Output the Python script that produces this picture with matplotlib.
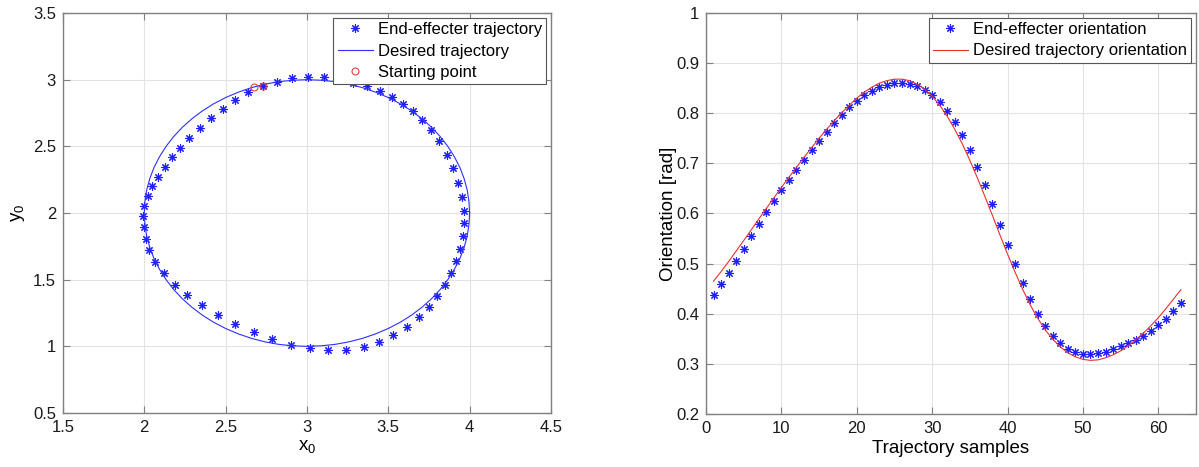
import matplotlib
matplotlib.use('Agg')
import matplotlib.pyplot as plt
from matplotlib.ticker import FormatStrFormatter

plt.rcParams['font.family'] = ['Liberation Sans', 'DejaVu Sans']
plt.rcParams['mathtext.default'] = 'regular'

# End-effector trajectory samples (left plot)
traj_x = [2.728, 2.818, 2.911, 3.005, 3.102, 3.198, 3.286, 3.368, 3.450, 3.522,
          3.588, 3.649, 3.709, 3.760, 3.813, 3.861, 3.897, 3.930, 3.953, 3.967,
          3.967, 3.959, 3.943, 3.918, 3.885, 3.846, 3.799, 3.748, 3.686, 3.614,
          3.532, 3.444, 3.348, 3.241, 3.132, 3.019, 2.905, 2.788, 2.673, 2.560,
          2.453, 2.355, 2.265, 2.187, 2.121, 2.068, 2.031, 2.008, 1.996, 1.994,
          2.000, 2.023, 2.049, 2.086, 2.127, 2.170, 2.222, 2.277, 2.341, 2.408,
          2.482, 2.558, 2.636]
traj_y = [2.955, 2.985, 3.013, 3.020, 3.020, 3.005, 2.975, 2.950, 2.915, 2.870,
          2.820, 2.763, 2.698, 2.623, 2.538, 2.438, 2.335, 2.225, 2.123, 2.013,
          1.925, 1.825, 1.730, 1.638, 1.548, 1.460, 1.375, 1.293, 1.218, 1.145,
          1.083, 1.030, 0.995, 0.975, 0.973, 0.985, 1.010, 1.055, 1.105, 1.168,
          1.235, 1.308, 1.385, 1.463, 1.548, 1.633, 1.723, 1.808, 1.893, 1.975,
          2.055, 2.128, 2.200, 2.273, 2.345, 2.418, 2.490, 2.565, 2.640, 2.713,
          2.783, 2.848, 2.908]

# Desired trajectory (left plot)
des_x = [4.000, 3.996, 3.985, 3.966, 3.940, 3.906, 3.866, 3.819, 3.766, 3.707,
         3.643, 3.574, 3.500, 3.423, 3.342, 3.259, 3.174, 3.087, 3.000,
         2.913, 2.826, 2.741, 2.658, 2.577, 2.500, 2.426, 2.357, 2.293, 2.234,
         2.181, 2.134, 2.094, 2.060, 2.034, 2.015, 2.004, 2.000,
         2.004, 2.015, 2.034, 2.060, 2.094, 2.134, 2.181, 2.234, 2.293, 2.357,
         2.426, 2.500, 2.577, 2.658, 2.741, 2.826, 2.913, 3.000,
         3.087, 3.174, 3.259, 3.342, 3.423, 3.500, 3.574, 3.643, 3.707, 3.766,
         3.819, 3.866, 3.906, 3.940, 3.966, 3.985, 3.996, 4.000]
des_y = [2.000, 2.087, 2.174, 2.259, 2.342, 2.423, 2.500, 2.574, 2.643, 2.707,
         2.766, 2.819, 2.866, 2.906, 2.940, 2.966, 2.985, 2.996, 3.000,
         2.996, 2.985, 2.966, 2.940, 2.906, 2.866, 2.819, 2.766, 2.707, 2.643,
         2.574, 2.500, 2.423, 2.342, 2.259, 2.174, 2.087, 2.000,
         1.913, 1.826, 1.741, 1.658, 1.577, 1.500, 1.426, 1.357, 1.293, 1.234,
         1.181, 1.134, 1.094, 1.060, 1.034, 1.015, 1.004, 1.000,
         1.004, 1.015, 1.034, 1.060, 1.094, 1.134, 1.181, 1.234, 1.293, 1.357,
         1.426, 1.500, 1.577, 1.658, 1.741, 1.826, 1.913, 2.000]

# Starting points
start_x = [2.675, 2.728]
start_y = [2.946, 2.955]

# Orientation (right plot)
samples = list(range(1, 64))
orient_ee = [0.438, 0.459, 0.481, 0.505, 0.530, 0.555, 0.579, 0.603, 0.625, 0.646,
             0.667, 0.687, 0.707, 0.726, 0.745, 0.763, 0.781, 0.797, 0.812, 0.825,
             0.836, 0.845, 0.852, 0.857, 0.860, 0.860, 0.859, 0.854, 0.847, 0.837,
             0.823, 0.805, 0.783, 0.757, 0.727, 0.692, 0.656, 0.618, 0.578, 0.537,
             0.499, 0.461, 0.429, 0.399, 0.376, 0.356, 0.341, 0.329, 0.323, 0.320,
             0.320, 0.321, 0.324, 0.329, 0.335, 0.341, 0.348, 0.356, 0.365, 0.377,
             0.390, 0.405, 0.421]
orient_des = [0.465, 0.484, 0.504, 0.525, 0.546, 0.567, 0.589, 0.610, 0.631, 0.652,
              0.672, 0.692, 0.712, 0.731, 0.750, 0.768, 0.785, 0.801, 0.816, 0.830,
              0.842, 0.852, 0.860, 0.865, 0.868, 0.868, 0.865, 0.858, 0.848, 0.834,
              0.816, 0.794, 0.768, 0.739, 0.706, 0.671, 0.634, 0.596, 0.557, 0.519,
              0.483, 0.449, 0.418, 0.391, 0.368, 0.349, 0.334, 0.322, 0.314, 0.309,
              0.307, 0.308, 0.312, 0.318, 0.326, 0.336, 0.348, 0.361, 0.376, 0.392,
              0.410, 0.429, 0.448]

x_ticks_l = [1.5, 2, 2.5, 3, 3.5, 4, 4.5]
y_ticks_l = [0.5, 1, 1.5, 2, 2.5, 3, 3.5]
x_ticks_r = [0, 10, 20, 30, 40, 50, 60]
y_ticks_r = [0.2, 0.3, 0.4, 0.5, 0.6, 0.7, 0.8, 0.9, 1.0]

star = (8, 2, 0)


def style_axes(ax):
    for s in ax.spines.values():
        s.set_color('#808080')
        s.set_linewidth(1.0)
    ax.tick_params(direction='in', length=5, width=0.8, color='#808080',
                   top=True, right=True, labelsize=12, labelcolor='#1a1a1a', pad=5)
    ax.grid(True, color='#e3e3e3', linewidth=0.8)
    ax.set_axisbelow(True)
    ax.xaxis.set_major_formatter(FormatStrFormatter('%g'))
    ax.yaxis.set_major_formatter(FormatStrFormatter('%g'))


def add_legend(ax):
    leg = ax.legend(loc='upper right', fontsize=12, frameon=True, fancybox=False,
                    edgecolor='#555555', framealpha=1, borderpad=0.25,
                    labelspacing=0.38, handlelength=2.1, handletextpad=0.3,
                    borderaxespad=0.3)
    leg.get_frame().set_linewidth(0.8)


fig = plt.figure(figsize=(11.99, 4.67), dpi=100)

# Left plot
ax1 = fig.add_axes([0.0525, 0.1156, 0.407, 0.8565])
ax1.plot(traj_x, traj_y, linestyle='none', marker=star, markersize=6,
         markeredgewidth=0.8, color='#2020ff', label='End-effecter trajectory')
ax1.plot(des_x, des_y, color='#3030ff', linewidth=0.8, label='Desired trajectory')
ax1.plot(start_x, start_y, linestyle='none', marker='o', markersize=5,
         markerfacecolor='none', markeredgecolor='#e04040', markeredgewidth=0.8,
         label='Starting point')
ax1.set_xlim(1.5, 4.5)
ax1.set_ylim(0.5, 3.5)
ax1.set_xticks(x_ticks_l)
ax1.set_yticks(y_ticks_l)
style_axes(ax1)
ax1.set_xlabel('x$_0$', fontsize=13.5, labelpad=2)
ax1.set_ylabel('y$_0$', fontsize=13.5, labelpad=4)
add_legend(ax1)

# Right plot
ax2 = fig.add_axes([0.5888, 0.1135, 0.4087, 0.8587])
ax2.plot(samples, orient_ee, linestyle='none', marker=star, markersize=6,
         markeredgewidth=0.8, color='#2020ff', label='End-effecter orientation')
ax2.plot(samples, orient_des, color='#e83030', linewidth=0.8,
         label='Desired trajectory orientation')
ax2.set_xlim(0, 65)
ax2.set_ylim(0.2, 1.0)
ax2.set_xticks(x_ticks_r)
ax2.set_yticks(y_ticks_r)
style_axes(ax2)
ax2.set_xlabel('Trajectory samples', fontsize=13.5, labelpad=3)
ax2.set_ylabel('Orientation [rad]', fontsize=13.5, labelpad=-1)
add_legend(ax2)

fig.savefig('out.png', dpi=100)
